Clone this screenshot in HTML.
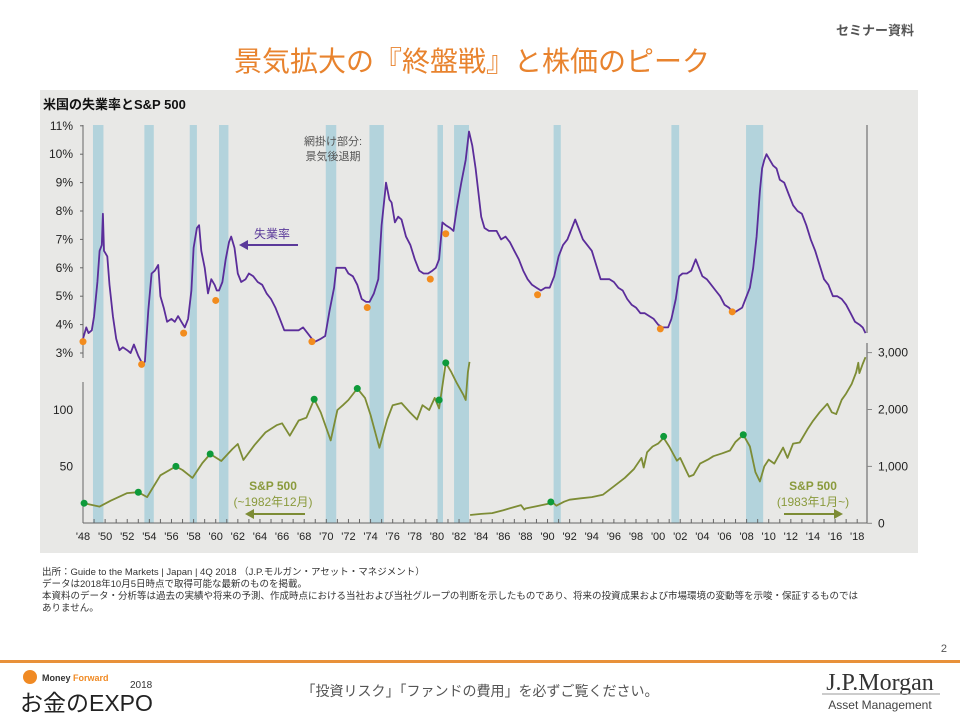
<!DOCTYPE html>
<html><head><meta charset="utf-8"><style>
html,body{margin:0;padding:0;background:#fff;width:960px;height:719px;overflow:hidden}
svg{display:block}
text{font-family:"Liberation Sans","Noto Sans CJK JP",sans-serif}
</style></head><body>
<svg id="c" width="960" height="719" viewBox="0 0 960 719" xmlns="http://www.w3.org/2000/svg">
<text x="914" y="35" text-anchor="end" font-size="13" font-weight="bold" fill="#555">セミナー資料</text>
<text x="472" y="71" text-anchor="middle" font-size="28" fill="#E8832E">景気拡大の『終盤戦』と株価のピーク</text>
<rect x="40" y="90" width="878" height="463" fill="#e8e8e6"/>
<text x="43" y="109" font-size="13" font-weight="bold" fill="#111">米国の失業率とS&amp;P 500</text>
<g id="bands"></g>
<g id="axes"></g>
<g id="series"></g>
<g>
<text x="333" y="145" text-anchor="middle" font-size="11" fill="#555">網掛け部分:</text>
<text x="333" y="160" text-anchor="middle" font-size="11" fill="#555">景気後退期</text>
<text x="272" y="238" text-anchor="middle" font-size="12" fill="#5b3a9a">失業率</text>
<line x1="298" y1="245" x2="246" y2="245" stroke="#5b3a9a" stroke-width="2"/>
<polygon points="239,245 248,240 248,250" fill="#5b3a9a"/>
<text x="273" y="490" text-anchor="middle" font-size="12" font-weight="bold" fill="#8a9a3c">S&amp;P 500</text>
<text x="273" y="506" text-anchor="middle" font-size="12" fill="#8a9a3c">(~1982年12月)</text>
<line x1="305" y1="514" x2="252" y2="514" stroke="#7d8c35" stroke-width="2"/>
<polygon points="245,514 254,509 254,519" fill="#7d8c35"/>
<text x="813" y="490" text-anchor="middle" font-size="12" font-weight="bold" fill="#8a9a3c">S&amp;P 500</text>
<text x="813" y="506" text-anchor="middle" font-size="12" fill="#8a9a3c">(1983年1月~)</text>
<line x1="784" y1="514" x2="836" y2="514" stroke="#7d8c35" stroke-width="2"/>
<polygon points="843,514 834,509 834,519" fill="#7d8c35"/>
</g>
<g font-size="9.5" fill="#333">
<text x="42" y="575">出所：Guide to the Markets | Japan | 4Q 2018 （J.P.モルガン・アセット・マネジメント）</text>
<text x="42" y="587">データは2018年10月5日時点で取得可能な最新のものを掲載。</text>
<text x="42" y="599">本資料のデータ・分析等は過去の実績や将来の予測、作成時点における当社および当社グループの判断を示したものであり、将来の投資成果および市場環境の変動等を示唆・保証するものでは</text>
<text x="42" y="611">ありません。</text>
</g>
<text x="947" y="652" text-anchor="end" font-size="11" fill="#555">2</text>
<rect x="0" y="660" width="960" height="3" fill="#E8913A"/>
<g>
<circle cx="30" cy="677" r="7" fill="#f08a24"/>
<text x="42" y="681" font-size="9" font-weight="bold" fill="#333">Money <tspan fill="#f08a24">Forward</tspan></text>
<text x="130" y="688" font-size="10" fill="#333">2018</text>
<text x="20" y="711" font-size="23" fill="#222">お金のEXPO</text>
</g>
<text x="480" y="696" text-anchor="middle" font-size="14" fill="#555">「投資リスク」「ファンドの費用」を必ずご覧ください。</text>
<g>
<text x="880" y="690" text-anchor="middle" font-size="24" fill="#333" style="font-family:'Liberation Serif',serif">J.P.Morgan</text>
<line x1="822" y1="694" x2="940" y2="694" stroke="#999" stroke-width="1"/>
<text x="880" y="709" text-anchor="middle" font-size="12" fill="#444">Asset Management</text>
</g>
</svg>
<script>
// ---- data ----
const recessionStart=[1948.9,1953.55,1957.65,1960.3,1969.95,1973.9,1980.05,1981.55,1990.55,2001.2,2007.95];
const recessionEnd=[1949.85,1954.4,1958.3,1961.15,1970.9,1975.2,1980.55,1982.9,1991.2,2001.9,2009.5];
const unempYears=[1948.0,1948.3,1948.5,1948.8,1949.0,1949.3,1949.5,1949.7,1949.8,1949.9,1950.2,1950.4,1950.7,1951.0,1951.3,1951.6,1952.0,1952.3,1952.6,1953.0,1953.4,1953.6,1953.9,1954.2,1954.5,1954.8,1955.0,1955.3,1955.6,1956.0,1956.3,1956.6,1956.9,1957.2,1957.5,1957.8,1958.0,1958.3,1958.5,1958.7,1959.0,1959.3,1959.6,1959.9,1960.1,1960.3,1960.6,1960.9,1961.2,1961.4,1961.7,1962.0,1962.3,1962.7,1963.0,1963.4,1963.8,1964.2,1964.6,1965.0,1965.4,1965.8,1966.2,1966.6,1967.0,1967.5,1967.9,1968.3,1968.7,1969.0,1969.5,1969.9,1970.3,1970.7,1970.9,1971.3,1971.7,1972.0,1972.4,1972.8,1973.2,1973.6,1973.9,1974.3,1974.7,1975.0,1975.3,1975.4,1975.7,1975.9,1976.2,1976.5,1976.8,1977.2,1977.6,1978.0,1978.4,1978.8,1979.2,1979.6,1979.9,1980.2,1980.5,1980.8,1981.2,1981.5,1981.8,1982.2,1982.6,1982.9,1983.2,1983.5,1983.8,1984.0,1984.3,1984.7,1985.0,1985.4,1985.8,1986.2,1986.6,1987.0,1987.4,1987.8,1988.2,1988.6,1989.0,1989.4,1989.8,1990.2,1990.6,1991.0,1991.4,1991.8,1992.2,1992.5,1992.8,1993.2,1993.6,1994.0,1994.4,1994.8,1995.2,1995.6,1996.0,1996.4,1996.8,1997.2,1997.6,1998.0,1998.4,1998.8,1999.2,1999.6,2000.0,2000.4,2000.9,2001.2,2001.6,2001.9,2002.2,2002.6,2003.0,2003.4,2003.7,2004.0,2004.4,2004.8,2005.2,2005.6,2006.0,2006.4,2006.8,2007.2,2007.6,2007.9,2008.3,2008.6,2008.9,2009.2,2009.4,2009.6,2009.8,2010.1,2010.4,2010.7,2011.0,2011.4,2011.8,2012.2,2012.6,2013.0,2013.4,2013.8,2014.2,2014.6,2015.0,2015.4,2015.8,2016.2,2016.6,2017.0,2017.4,2017.8,2018.2,2018.5,2018.75];
const unempRate=[3.5,3.9,3.7,3.8,4.3,5.5,6.6,6.8,7.9,6.6,6.4,5.4,4.3,3.5,3.1,3.2,3.1,3.0,3.3,2.9,2.6,2.7,4.5,5.8,5.9,6.1,5.0,4.6,4.1,4.2,4.1,4.3,4.1,3.9,4.2,5.2,6.7,7.4,7.5,6.6,6.0,5.1,5.6,5.4,5.2,5.2,5.5,6.3,6.9,7.1,6.7,5.8,5.5,5.6,5.8,5.7,5.5,5.4,5.1,4.9,4.6,4.2,3.8,3.8,3.8,3.8,3.9,3.7,3.5,3.4,3.5,3.6,4.5,5.3,6.0,6.0,6.0,5.8,5.7,5.4,4.9,4.8,4.8,5.1,5.6,7.5,8.6,9.0,8.4,8.3,7.6,7.8,7.7,7.1,6.8,6.3,5.9,5.8,5.8,5.9,6.0,6.3,7.6,7.5,7.4,7.3,8.1,9.0,9.8,10.8,10.3,9.5,8.5,7.8,7.4,7.3,7.3,7.3,7.0,7.1,6.9,6.6,6.3,5.9,5.6,5.4,5.3,5.2,5.3,5.3,5.7,6.4,6.8,7.0,7.4,7.7,7.4,7.0,6.8,6.6,6.1,5.6,5.6,5.6,5.5,5.3,5.2,4.9,4.7,4.6,4.4,4.4,4.3,4.2,4.0,3.9,3.9,4.2,4.9,5.7,5.8,5.8,5.9,6.3,6.0,5.7,5.6,5.4,5.2,5.0,4.7,4.6,4.4,4.5,4.6,4.9,5.3,6.0,7.1,8.7,9.5,9.8,10.0,9.8,9.6,9.5,9.1,9.0,8.6,8.2,8.0,7.9,7.5,7.0,6.6,6.1,5.6,5.4,5.0,5.0,4.9,4.7,4.4,4.1,4.0,3.9,3.7];
const lowYears=[1948.0,1953.3,1957.1,1960.0,1968.7,1973.7,1979.4,1980.8,1989.1,2000.2,2006.7];
const lowRates=[3.4,2.6,3.7,4.85,3.4,4.6,5.6,7.2,5.05,3.85,4.45];
const spOldYears=[1948.1,1949.5,1950.5,1952.0,1953.0,1953.8,1955.0,1956.4,1957.0,1957.9,1958.8,1959.5,1960.5,1961.5,1962.0,1962.5,1963.5,1964.5,1965.5,1966.0,1966.7,1967.5,1968.2,1968.9,1969.5,1970.4,1971.0,1971.5,1972.0,1972.8,1973.5,1974.0,1974.8,1975.5,1976.0,1976.8,1977.5,1978.2,1978.7,1979.3,1979.8,1980.2,1980.8,1981.3,1981.8,1982.4,1982.6,1982.8,1982.95];
const spOldValues=[32,30.7,33,36.2,36.6,34.5,45,50.2,48,43.6,52.3,58.4,53.6,62,66,54.3,65,76,83,85,73,88,91,114,97,69,100,106,113,130,116,94,63,89,106,109,98,89,106,100,116,102,178,159,139,120,113,159,180];
const spOldPeakYears=[1948.1,1953.0,1956.4,1959.5,1968.9,1972.8,1980.2,1980.8];
const spOldPeakValues=[32,36.6,50.2,58.4,114,130,113,178];
const spNewYears=[1983.0,1984.0,1985.0,1986.0,1987.6,1987.9,1988.0,1989.0,1990.5,1990.8,1991.5,1992.0,1993.0,1994.0,1995.0,1996.0,1997.0,1997.8,1998.5,1998.7,1999.0,1999.5,2000.0,2000.5,2001.0,2001.7,2002.0,2002.6,2002.8,2003.2,2003.8,2004.5,2005.0,2005.8,2006.5,2007.0,2007.7,2008.3,2008.8,2009.2,2009.6,2010.0,2010.5,2011.3,2011.7,2012.2,2012.8,2013.5,2014.0,2014.6,2015.3,2015.7,2016.1,2016.6,2017.0,2017.5,2017.9,2018.1,2018.2,2018.5,2018.75];
const spNewValues=[145,165,180,230,320,240,260,300,360,310,380,415,440,460,500,650,800,950,1150,980,1250,1350,1400,1500,1350,1100,1150,900,820,850,1050,1120,1180,1230,1280,1430,1556,1350,900,735,1000,1120,1050,1330,1150,1400,1420,1650,1800,1950,2100,1950,1920,2170,2280,2450,2650,2820,2640,2800,2920];
const spNewPeakYears=[1990.3,2000.5,2007.7];
const spNewPeakValues=[375,1527,1556];
const unempTicks=[3,4,5,6,7,8,9,10,11];
const spOldTicks=[50,100];
const spNewTicks=[0,1000,2000,3000];
const spNewTickLabels=["0","1,000","2,000","3,000"];
const yearTicks=[1948,1950,1952,1954,1956,1958,1960,1962,1964,1966,1968,1970,1972,1974,1976,1978,1980,1982,1984,1986,1988,1990,1992,1994,1996,1998,2000,2002,2004,2006,2008,2010,2012,2014,2016,2018];

// ---- scales ----
const X=y=>83+(y-1948)*11.06;
const YU=v=>353-(v-3)*28.4;
const YO=v=>410-Math.log2(v/100)*56.7;
const YN=v=>523.3-v*0.0569;
const NS="http://www.w3.org/2000/svg";
function mk(tag,attrs,parent){const e=document.createElementNS(NS,tag);for(const k in attrs)e.setAttribute(k,attrs[k]);parent.appendChild(e);return e;}
const bands=document.getElementById('bands'),axes=document.getElementById('axes'),series=document.getElementById('series');

recessionStart.forEach((s,i)=>{
  const r=mk('rect',{x:X(s),y:125,width:X(recessionEnd[i])-X(s),height:398,fill:'#b3d3dc'},bands);
  
  
});
let a=mk('line',{x1:83,y1:125,x2:83,y2:358,stroke:'#666','stroke-width':1},axes);


a=mk('line',{x1:83,y1:382,x2:83,y2:523,stroke:'#666','stroke-width':1},axes);


a=mk('line',{x1:867,y1:125,x2:867,y2:333,stroke:'#888','stroke-width':1.5},axes);


a=mk('line',{x1:867,y1:343,x2:867,y2:523,stroke:'#888','stroke-width':1.5},axes);


a=mk('line',{x1:83,y1:523,x2:867,y2:523,stroke:'#666','stroke-width':1},axes);


unempTicks.forEach(v=>{
  const t=mk('text',{x:73,y:YU(v)+4,'text-anchor':'end','font-size':12,fill:'#222'},axes);t.textContent=v+'%';
  
  
  mk('line',{x1:80,y1:YU(v),x2:83,y2:YU(v),stroke:'#666'},axes);
});
spOldTicks.forEach(v=>{
  const t=mk('text',{x:73,y:YO(v)+4,'text-anchor':'end','font-size':12,fill:'#222'},axes);t.textContent=v;
  
  
});
spNewTicks.forEach((v,i)=>{
  const t=mk('text',{x:878,y:YN(v)+4,'font-size':12,fill:'#222'},axes);t.textContent=spNewTickLabels[i];
  
  
  mk('line',{x1:867,y1:YN(v),x2:872,y2:YN(v),stroke:'#888'},axes);
});
for(let y=1948;y<=2018;y++){mk('line',{x1:X(y),y1:519,x2:X(y),y2:523,stroke:'#666'},axes);}
yearTicks.forEach(y=>{
  const t=mk('text',{x:X(y),y:540,'text-anchor':'middle','font-size':11,fill:'#222'},axes);
  t.textContent="'"+String(y).slice(2);
  
  
});
function line(xs,vs,ys,color,name){
  const p=mk('polyline',{points:xs.map((x,i)=>X(x).toFixed(1)+','+ys(vs[i]).toFixed(1)).join(' '),fill:'none',stroke:color,'stroke-width':1.8,'stroke-linejoin':'round'},series);
  
  
}
function dots(xs,vs,ys,color,name){
  xs.forEach((x,i)=>{const c=mk('circle',{cx:X(x),cy:ys(vs[i]),r:3.5,fill:color},series);
    
    });
}
line(unempYears,unempRate,YU,'#5b2d9a','unemployment-line');
line(spOldYears,spOldValues,YO,'#7d8c35','sp500-old-line');
line(spNewYears,spNewValues,YN,'#7d8c35','sp500-new-line');
dots(lowYears,lowRates,YU,'#f28c1e','unemployment-low-dot');
dots(spOldPeakYears,spOldPeakValues,YO,'#0e9a3a','sp500-peak-dot');
dots(spNewPeakYears,spNewPeakValues,YN,'#0e9a3a','sp500-peak-dot');
</script>
</body></html>
